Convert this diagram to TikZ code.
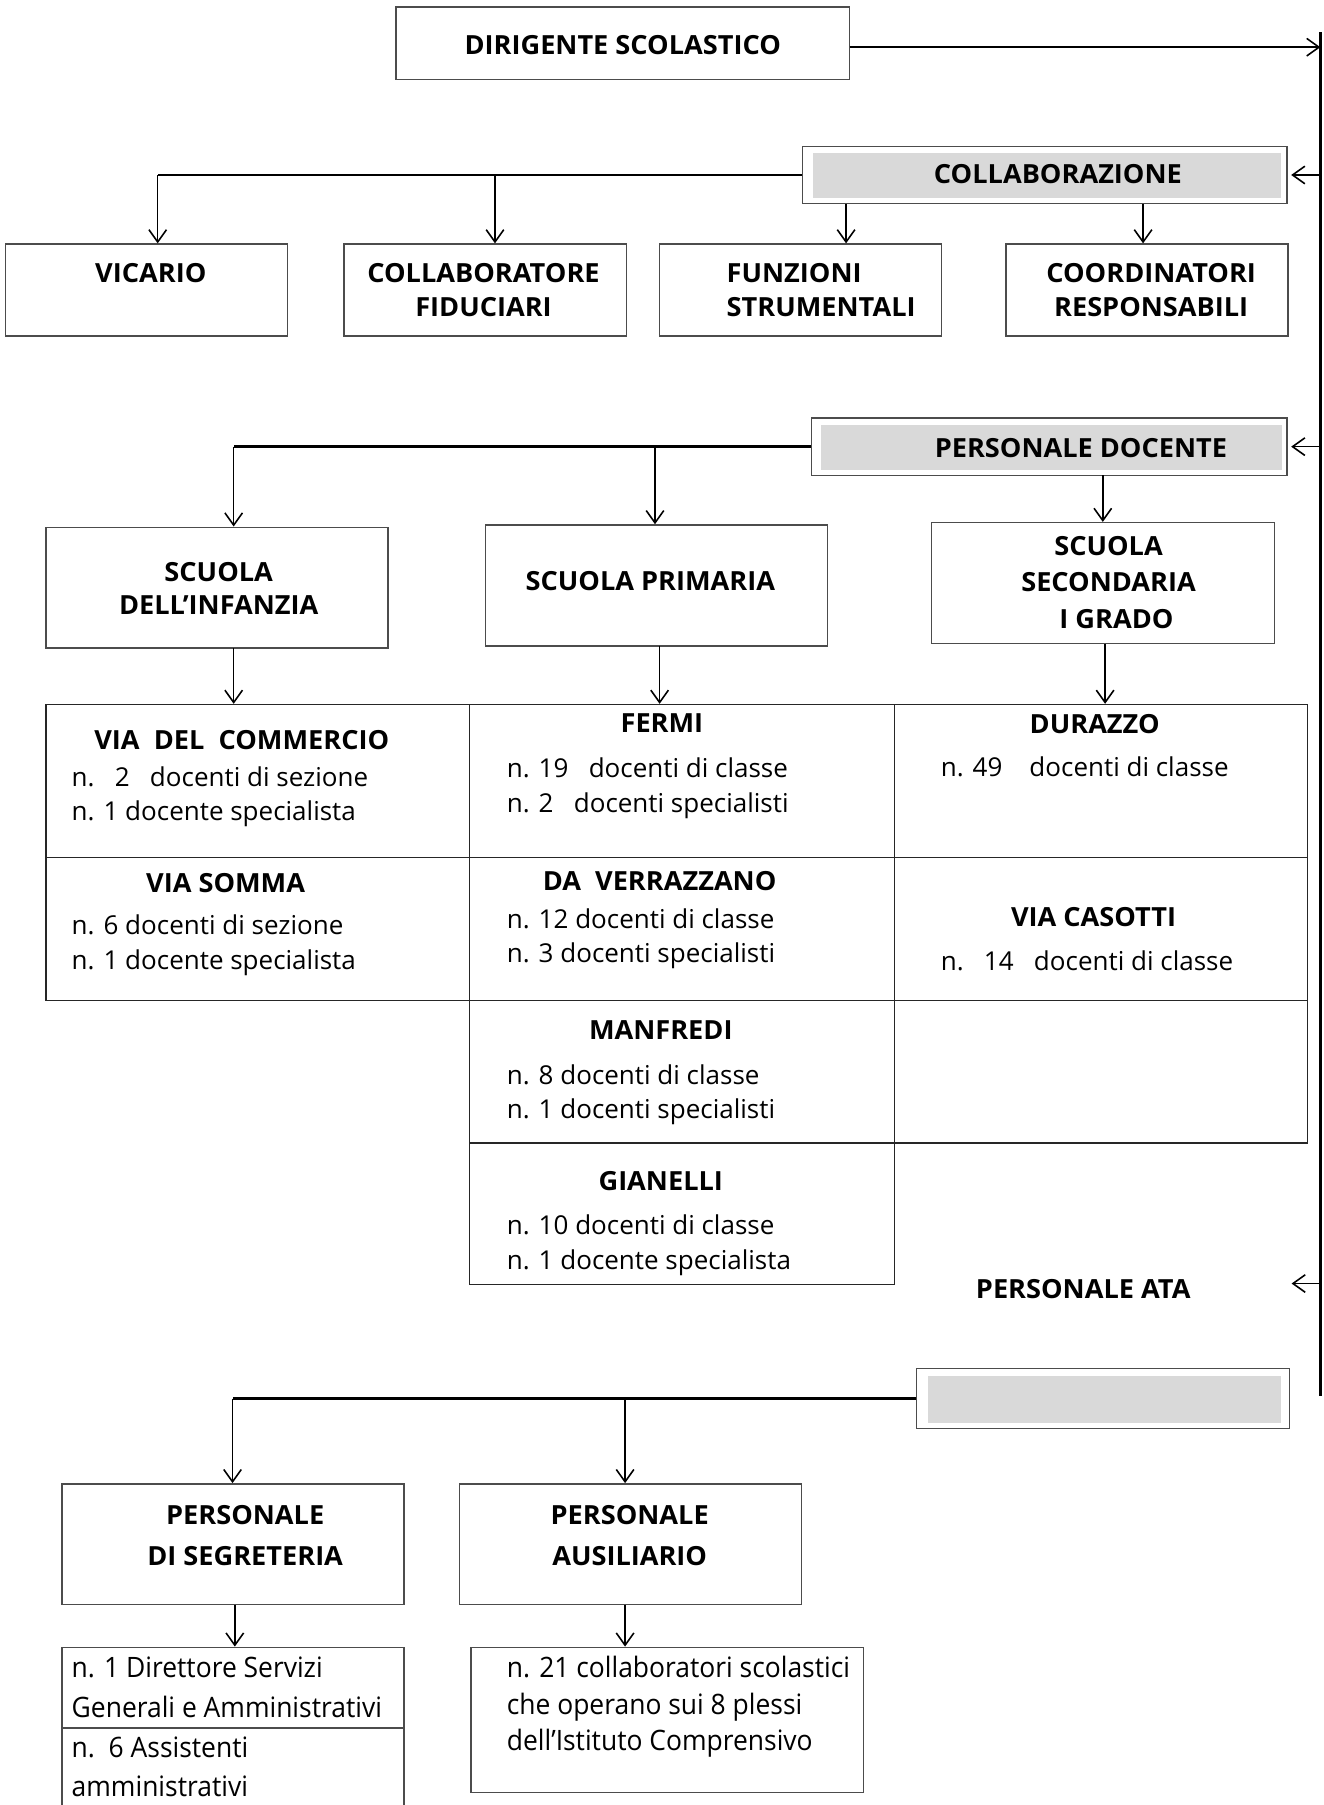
\documentclass[tikz,border=0pt]{standalone}
\usepackage{fontspec}
\setmainfont{Open Sans}
\newfontfamily\narrowf[FakeStretch=0.94]{Open Sans}
\newfontfamily\headf[FakeStretch=1.03]{Open Sans}
\usetikzlibrary{arrows.meta,fit}
\begin{document}
\begin{tikzpicture}[x=0.02302cm,y=-0.02302cm,
 box/.style={draw=black!70, line width=0.8pt, inner sep=0pt},
 cell/.style={draw=black!85, line width=0.8pt, inner sep=0pt},
 grey/.style={fill=black!15, draw=none, inner sep=0pt},
 hd/.style={font=\fontsize{15}{19}\headf\bfseries, inner sep=0pt, align=center},
 hdl/.style={hd, align=left, anchor=west},
 tx/.style={font=\fontsize{14.8}{19}\selectfont, inner sep=0pt, anchor=west},
 nx/.style={font=\fontsize{16}{19}\narrowf, inner sep=0pt, anchor=west},
 arr/.style={line width=0.9pt, -{Straight Barb[length=7pt,width=10pt,line width=0.9pt]}},
 bus/.style={line width=1.4pt},
]
\useasboundingbox (0,0) rectangle (1150,1568);

% ---- top
\node[box, fit={(344,6)(738,69)}] (dir) {};
\node[hd] (dirT) at (541,39) {DIRIGENTE SCOLASTICO};
\coordinate (sT) at (1147,28);
\coordinate (sB) at (1147,1213);
\draw[bus] (sT) -- (sB);
\coordinate (dA) at (738,41);
\draw[arr] (dA) -- (dA -| sT);

% ---- collaborazione
\node[box, fill=white, fit={(697,127)(1118,177)}] (collab) {};
\node[grey, fit={(706,133)(1113,172)}] (collabG) {};
\node[hd] (collabT) at (919,151) {COLLABORAZIONE};
\draw[arr, shorten >=2pt] (collab.east -| sT) -- (collab.east);

\node[box, fit={(5,212)(250,292)}] (vic) {};
\node[box, fit={(299,212)(544,292)}] (fid) {};
\node[box, fit={(573,212)(818,292)}] (fun) {};
\node[box, fit={(874,212)(1119,292)}] (coo) {};
\node[hd] (vicT) at (131,237) {VICARIO};
\node[hd] (fidT) at (420,252) {COLLABORATORE\\FIDUCIARI};
\node[hdl] (funT) at (631,252) {FUNZIONI\\STRUMENTALI};
\node[hd] (cooT) at (1000,252) {COORDINATORI\\RESPONSABILI};

\coordinate (b1) at (137,152);
\coordinate (b2) at (430,152);
\coordinate (c3) at (735,177);
\coordinate (c4) at (993,177);
\draw[bus] (collab.west) -- (b1);
\draw[arr] (b1) -- (b1 |- vic.north);
\draw[arr] (b2) -- (b2 |- fid.north);
\draw[arr] (c3) -- (c3 |- fun.north);
\draw[arr] (c4) -- (c4 |- coo.north);

% ---- personale docente
\node[box, fill=white, fit={(705,363)(1118,413)}] (pd) {};
\node[grey, fit={(713,369)(1114,408)}] (pdG) {};
\node[hd] (pdT) at (939,389) {PERSONALE DOCENTE};
\draw[arr, shorten >=2pt] (pd.east -| sT) -- (pd.east);

\node[box, fit={(40,458)(337,563)}] (inf) {};
\node[box, fit={(422,456)(719,561)}] (pri) {};
\node[box, fit={(809,454)(1107,559)}] (sec) {};
\node[hd] (infT) at (190,511) {SCUOLA\\DELL’INFANZIA};
\node[hd] (priT) at (565,505) {SCUOLA PRIMARIA};
\node[hd, font=\fontsize{15}{21}\headf\bfseries] (secT) at (963,506) {SCUOLA\\SECONDARIA\\\hspace{0.6em}I GRADO};

\coordinate (b3) at (203,388);
\coordinate (b4) at (569,388);
\coordinate (c5) at (958,413);
\draw[bus] (pd.west) -- (b3);
\draw[arr] (b3) -- (b3 |- inf.north);
\draw[arr] (b4) -- (b4 |- pri.north);
\draw[arr] (c5) -- (c5 |- sec.north);

% ---- table
\node[cell, fit={(40,612)(408,745)}] (vc) {};
\node[cell, fit={(40,745)(408,869)}] (vs) {};
\node[cell, fit={(408,612)(777,745)}] (fe) {};
\node[cell, fit={(408,745)(777,869)}] (dv) {};
\node[cell, fit={(408,869)(777,993)}] (ma) {};
\node[cell, fit={(408,993)(777,1116)}] (gi) {};
\node[cell, fit={(777,612)(1136,745)}] (du) {};
\node[cell, fit={(777,745)(1136,869)}] (ca) {};
\node[cell, fit={(777,869)(1136,993)}] (em) {};

\coordinate (d1) at (203,563);
\coordinate (d2) at (573,561);
\coordinate (d3) at (960,559);
\draw[arr] (d1) -- (d1 |- vc.north);
\draw[arr] (d2) -- (d2 |- fe.north);
\draw[arr] (d3) -- (d3 |- du.north);

\node[hd] (vcT) at (210,643) {VIA\ \ DEL\ \ COMMERCIO};
\node[tx] (vc1) at (62,675) {n.\ \ \ 2\ \ \ docenti di sezione};
\node[tx] (vc2) at (62,707) {n. 1 docente specialista};
\node[hd] (vsT) at (196,767) {VIA SOMMA};
\node[tx] (vs1) at (62,803) {n. 6 docenti di sezione};
\node[tx] (vs2) at (62,836) {n. 1 docente specialista};

\node[hd] (feT) at (575,628) {FERMI};
\node[tx] (fe1) at (440,667) {n. 19\ \ \ docenti di classe};
\node[tx] (fe2) at (440,700) {n. 2\ \ \ docenti specialisti};
\node[hd] (dvT) at (573,765) {DA\ \ VERRAZZANO};
\node[tx] (dv1) at (440,798) {n. 12 docenti di classe};
\node[tx] (dv2) at (440,830) {n. 3 docenti specialisti};
\node[hd] (maT) at (574,895) {MANFREDI};
\node[tx] (ma1) at (440,934) {n. 8 docenti di classe};
\node[tx] (ma2) at (440,966) {n. 1 docenti specialisti};
\node[hd] (giT) at (574,1026) {GIANELLI};
\node[tx] (gi1) at (440,1064) {n. 10 docenti di classe};
\node[tx] (gi2) at (440,1097) {n. 1 docente specialista};

\node[hd] (duT) at (951,629) {DURAZZO};
\node[tx] (du1) at (817,666) {n. 49\ \ \ \ docenti di classe};
\node[hd] (caT) at (950,797) {VIA CASOTTI};
\node[tx] (ca1) at (817,835) {n.\ \ \ 14\ \ \ docenti di classe};

% ---- personale ATA
\node[hd] (ata) at (941,1120) {PERSONALE ATA};
\coordinate (ataTip) at (1122,1115);
\draw[arr] (ataTip -| sT) -- (ataTip);

\node[box, fill=white, fit={(796,1189)(1120,1241)}] (ataBox) {};
\node[grey, fit={(806,1195)(1113,1236)}] (ataG) {};

\node[box, fit={(54,1289)(351,1394)}] (seg) {};
\node[box, fit={(399,1289)(696,1394)}] (aus) {};
\node[hd] (segT) at (213,1334) {PERSONALE\\[4pt]DI SEGRETERIA};
\node[hd] (ausT) at (547,1334) {PERSONALE\\[4pt]AUSILIARIO};

\coordinate (b5) at (202,1215);
\coordinate (b6) at (543,1215);
\draw[bus] (ataBox.west) -- (b5);
\draw[arr] (b5) -- (b5 |- seg.north);
\draw[arr] (b6) -- (b6 |- aus.north);

\node[box, fit={(54,1431)(351,1501)}] (segD1) {};
\node[box, fit={(54,1501)(351,1580)}] (segD2) {};
\node[box, fit={(409,1431)(750,1557)}] (ausD) {};
\coordinate (e1) at (204,1394);
\coordinate (e2) at (543,1394);
\draw[arr] (e1) -- (e1 |- segD1.north);
\draw[arr] (e2) -- (e2 |- ausD.north);

\node[nx] (sd1) at (62,1448) {n. 1 Direttore Servizi};
\node[nx] (sd2) at (62,1483) {Generali e Amministrativi};
\node[nx] (sd3) at (62,1518) {n.\ \ 6 Assistenti};
\node[nx] (sd4) at (62,1552) {amministrativi};
\node[nx] (ad1) at (440,1448) {n. 21 collaboratori scolastici};
\node[nx] (ad2) at (440,1483) {che operano sui 8 plessi};
\node[nx] (ad3) at (440,1514) {dell’Istituto Comprensivo};
\end{tikzpicture}
\end{document}
